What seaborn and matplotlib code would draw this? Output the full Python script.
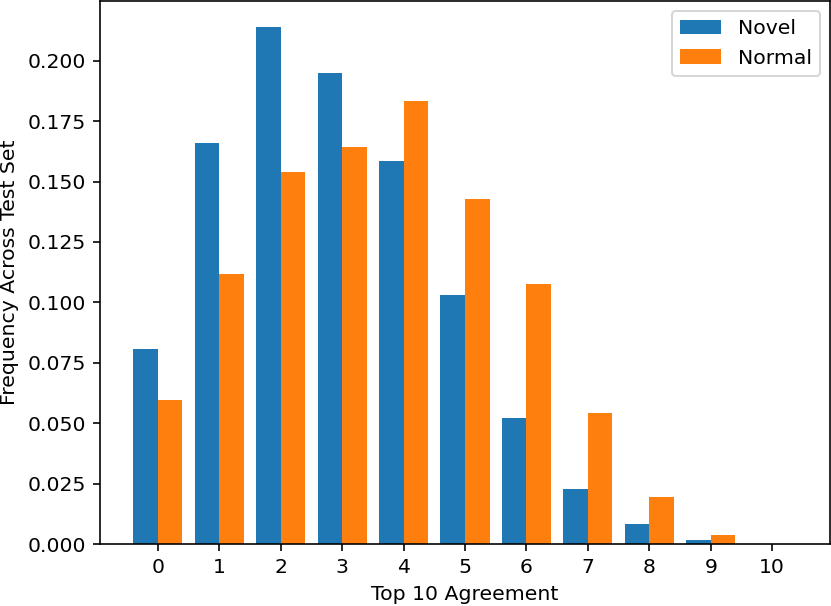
import matplotlib
matplotlib.use("Agg")
import matplotlib.pyplot as plt
import seaborn as sns
import pandas as pd

categories = [0, 1, 2, 3, 4, 5, 6, 7, 8, 9, 10]
novel = [0.0805, 0.1659, 0.2140, 0.1948, 0.1585, 0.1032, 0.0521, 0.0226, 0.0081, 0.0015, 0.0]
normal = [0.0594, 0.1117, 0.1541, 0.1642, 0.1832, 0.1428, 0.1077, 0.0543, 0.0193, 0.0038, 0.0]
series_names = ["Novel", "Normal"]
colors = ["#1f77b4", "#ff7f0e"]

df = pd.DataFrame({
    "agreement": categories * 2,
    "freq": novel + normal,
    "series": [series_names[0]] * len(categories) + [series_names[1]] * len(categories),
})

plt.rcParams["font.family"] = ["DejaVu Sans"]
plt.rcParams["font.size"] = 10

DPI = 147
fig = plt.figure(figsize=(831 / DPI, 606 / DPI), dpi=DPI)
ax = fig.add_axes([100 / 831, 1 - 544 / 606, 730 / 831, 543 / 606])

sns.barplot(data=df, x="agreement", y="freq", hue="series", palette=colors,
            saturation=1, width=0.8, linewidth=0, ax=ax)

ax.set_xlim(-0.94, 10.94)
ax.set_ylim(0, 0.2247)
ax.set_xlabel("Top 10 Agreement")
ax.set_ylabel("Frequency Across Test Set")
h, l = ax.get_legend_handles_labels()
ax.legend(h, l, loc="upper right", title=None)

fig.savefig("out.png", dpi=DPI)
